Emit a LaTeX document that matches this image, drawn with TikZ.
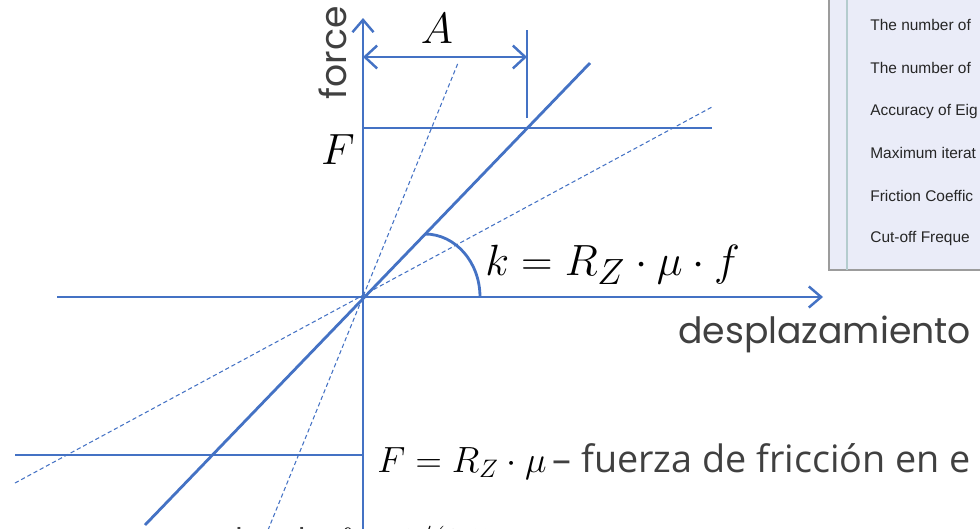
\documentclass[tikz,border=0pt]{standalone}
\usepackage{fontspec}
\usepackage{amsmath}
\usetikzlibrary{arrows.meta,positioning,calc}
\newfontfamily\axisfont{Poppins}
\newfontfamily\notefont{Open Sans}
\newfontfamily\dlgfont{Liberation Sans}
\definecolor{plotblue}{HTML}{4472C4}
\definecolor{labelgrey}{HTML}{404040}
\definecolor{dlgbg}{HTML}{EAECF8}
\definecolor{dlgline}{HTML}{B4CCCE}
\definecolor{dlgframe}{HTML}{9C9C9C}

\begin{document}
\begin{tikzpicture}[x=0.02cm, y=-0.02cm,
  axisline/.style={line width=1.6pt, plotblue, -{Straight Barb[length=7pt, width=12pt, line width=1.4pt]}},
  solidline/.style={line width=1.6pt, plotblue},
  guideline/.style={line width=0.6pt, plotblue, dash pattern=on 2.4pt off 1.6pt},
  dimline/.style={line width=1.6pt, plotblue, {Straight Barb[length=7pt, width=13pt, line width=1.4pt]}-{Straight Barb[length=7pt, width=13pt, line width=1.4pt]}},
  mathlabel/.style={inner sep=0pt, font=\fontsize{26}{30}\selectfont},
  axislabel/.style={inner sep=0pt, text=labelgrey, font=\axisfont\fontsize{20.6}{24}\selectfont},
  dlgtext/.style={inner sep=0pt, anchor=west, text=black!85, font=\dlgfont\fontsize{8.8}{11}\selectfont}
]
  \useasboundingbox (0,0) rectangle (980,528);

  % dialog screenshot, top right
  \fill[dlgbg] (829,-2) rectangle (982,270);
  \draw[dlgframe, line width=0.9pt] (829,-2) -- (829,270) -- (982,270);
  \draw[dlgline, line width=0.8pt] (847,-2) -- (847,270);
  \node[dlgtext] (p1) at (870,25) {The number of};
  \node[dlgtext] (p2) at (870,68) {The number of};
  \node[dlgtext] (p3) at (870,111) {Accuracy of Eig};
  \node[dlgtext] (p4) at (870,153) {Maximum iterat};
  \node[dlgtext] (p5) at (870,196) {Friction Coeffic};
  \node[dlgtext] (p6) at (870,239) {Cut-off Freque};

  % points
  \coordinate (O) at (363,297);
  \coordinate (ybot) at (363,530);
  \coordinate (ytop) at (363,18);
  \coordinate (xleft) at (57,297);
  \coordinate (xright) at (823,297);
  \coordinate (kbot) at (145,525);
  \coordinate (ktop) at (590,63);
  \coordinate (stbot) at (268,530);
  \coordinate (sttop) at (458,63);
  \coordinate (flbot) at (15,483);
  \coordinate (fltop) at (712,107);
  \coordinate (Fy) at (363,128);
  \coordinate (Fend) at (712,128);
  \coordinate (Fneg) at (363,455);
  \coordinate (Fnegend) at (15,455);
  \coordinate (tickbot) at (527,118);
  \coordinate (ticktop) at (527,30);
  \coordinate (Aleft) at (363,57);
  \coordinate (Aright) at (527,57);

  % guides
  \draw[guideline] (stbot) -- (sttop);
  \draw[guideline] (flbot) -- (fltop);

  % axes
  \draw[axisline] (ybot) -- (ytop);
  \draw[axisline] (xleft) -- (xright);

  \draw[solidline] (kbot) -- (ktop);
  \draw[solidline] (Fy) -- (Fend);
  \draw[solidline] (Fnegend) -- (Fneg);
  \draw[plotblue, line width=0.8pt] (tickbot) -- (ticktop);
  \draw[dimline] (Aleft) -- (Aright);
  \draw[solidline] (425,234) arc[start angle=90, end angle=0, x radius=1.1cm, y radius=1.26cm];

  % labels
  \node[mathlabel] (Alab) at (437,29) {$A$};
  \node[mathlabel] (Flab) at (338,150) {$F$};
  \node[axislabel, rotate=90] (forcelab) at (333,53) {force};
  \node[mathlabel, anchor=base west, font=\fontsize{27.5}{31}\selectfont] (klab) at (485,275) {$k = R_Z \cdot \mu \cdot f$};
  \node[axislabel, anchor=base west] (dlab) at (678,343) {desplazamiento};
  \node[inner sep=0pt, anchor=base west] (Fnote) at (377,472)
    {\fontsize{21}{25}\selectfont$F = R_Z \cdot \mu$\,{\notefont\color{labelgrey}\fontsize{21.5}{25}\selectfont– fuerza de fricción en e}};
  \node[inner sep=0pt, anchor=base west] (fnote) at (222,553)
    {{\notefont\color{labelgrey}\fontsize{19.5}{23}\selectfont donde} \fontsize{21}{25}\selectfont$f = 1/(2.5$};
\end{tikzpicture}
\end{document}
